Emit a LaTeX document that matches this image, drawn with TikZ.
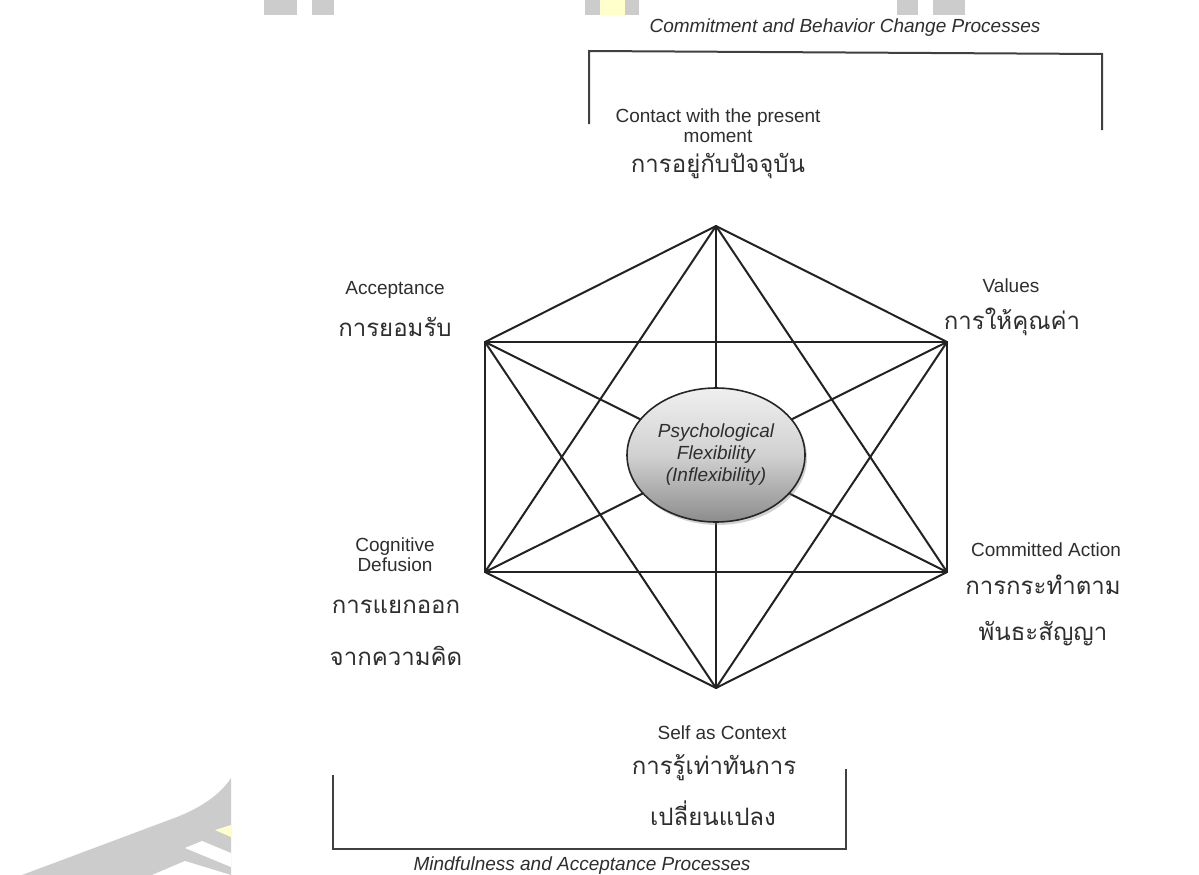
\documentclass[tikz,border=0pt]{standalone}
\usepackage{fontspec}
\setmainfont{Liberation Sans}
\newfontfamily\thaifont[Script=Thai]{Loma}
\usetikzlibrary{shapes.geometric,shadows}
\definecolor{wmgray}{HTML}{CCCCCC}
\definecolor{wmyellow}{HTML}{FFFFCC}
\definecolor{ink}{HTML}{222222}
\definecolor{txt}{HTML}{2E2E2E}
\tikzset{
  en/.style={text=txt, align=center, inner sep=0pt, font=\fontsize{19}{20}\selectfont},
  enit/.style={en, font=\fontsize{19}{20}\selectfont\itshape},
  th/.style={text=txt, align=center, inner sep=0pt, font=\thaifont\fontsize{24}{28}\selectfont},
  web/.style={draw=ink, line width=2pt},
  bracket/.style={draw=black!75, line width=2pt},
  core/.style={ellipse, draw=black!85, line width=1.6pt, minimum width=178pt, minimum height=134pt, inner sep=0pt,
    top color=black!6, bottom color=black!45, middle color=black!18,
    drop shadow={opacity=0.35, shadow xshift=2pt, shadow yshift=-3pt}}
}
\begin{document}
\begin{tikzpicture}[x=1pt,y=-1pt]
\useasboundingbox (0,0) rectangle (1199,875);
\fill[white] (0,0) rectangle (1199,875);
% watermark fragments
\fill[wmgray] (264,0) rectangle (297,15);
\fill[wmgray] (312,0) rectangle (334,15);
\fill[wmgray] (585,0) rectangle (600,15);
\fill[wmyellow] (600,0) rectangle (625,15);
\fill[wmgray] (625,0) rectangle (639,15);
\fill[wmgray] (897,0) rectangle (918,15);
\fill[wmgray] (933,0) rectangle (965,15);
\fill[wmgray] (22,875) -- (177,817) .. controls (205,806) and (222,792) .. (231,778) -- (231,875) -- cycle;
\fill[white] (185,848) -- (202,841) -- (231,853) -- (231,867) -- cycle;
\fill[white] (152,875) -- (185,861) -- (231,875) -- cycle;
\fill[wmyellow] (215,830) -- (231,825) -- (231,837) -- cycle;

% vertices
\coordinate (t) at (716,226);
\coordinate (ul) at (485,342);
\coordinate (ur) at (947,342);
\coordinate (ll) at (485,572);
\coordinate (lr) at (947,572);
\coordinate (b) at (716,688);
\foreach \p/\q in {t/ul,t/ur,t/ll,t/lr,t/b,ul/ur,ul/ll,ul/lr,ul/b,ur/ll,ur/lr,ur/b,ll/lr,ll/b,lr/b}
  \draw[web, line cap=round] (\p) -- (\q);

\node[core] (center) at (716,455) {};
\node[enit] (centertxt) at (716,455) {Psychological\\[2pt]Flexibility\\[2pt](Inflexibility)};

% brackets
\coordinate (tb1) at (589,124);
\coordinate (tb2) at (589,51);
\coordinate (tb3) at (1102,54);
\coordinate (tb4) at (1102,130);
\draw[bracket] (tb1) -- (tb2) -- (tb3) -- (tb4);
\coordinate (bb1) at (333,775);
\coordinate (bb2) at (333,849);
\coordinate (bb3) at (846,849);
\coordinate (bb4) at (846,769);
\draw[bracket] (bb1) -- (bb2) -- (bb3) -- (bb4);
\node[enit] (toplab) at (845,28) {Commitment and Behavior Change Processes};
\node[enit] (botlab) at (582,866) {Mindfulness and Acceptance Processes};

% labels
\node[en] (contact) at (718,126) {Contact with the present\\moment};
\node[th] (contactth) at (718,166) {การอยู่กับปัจจุบัน};
\node[en] (accept) at (395,290) {Acceptance};
\node[th] (acceptth) at (395,327) {การยอมรับ};
\node[en] (values) at (1011,286) {Values};
\node[th] (valuesth) at (1012,322) {การให้คุณค่า};
\node[en] (cogn) at (395,555) {Cognitive\\Defusion};
\node[th] (cognth1) at (396,607) {การแยกออก};
\node[th] (cognth2) at (396,656) {จากความคิด};
\node[en] (commit) at (1046,550) {Committed Action};
\node[th] (committh1) at (1043,585) {การกระทำตาม};
\node[th] (committh2) at (1043,634) {พันธะสัญญา};
\node[en] (self) at (722,733) {Self as Context};
\node[th] (selfth1) at (714,768) {การรู้เท่าทันการ};
\node[th] (selfth2) at (713,813) {เปลี่ยนแปลง};
\end{tikzpicture}
\end{document}
